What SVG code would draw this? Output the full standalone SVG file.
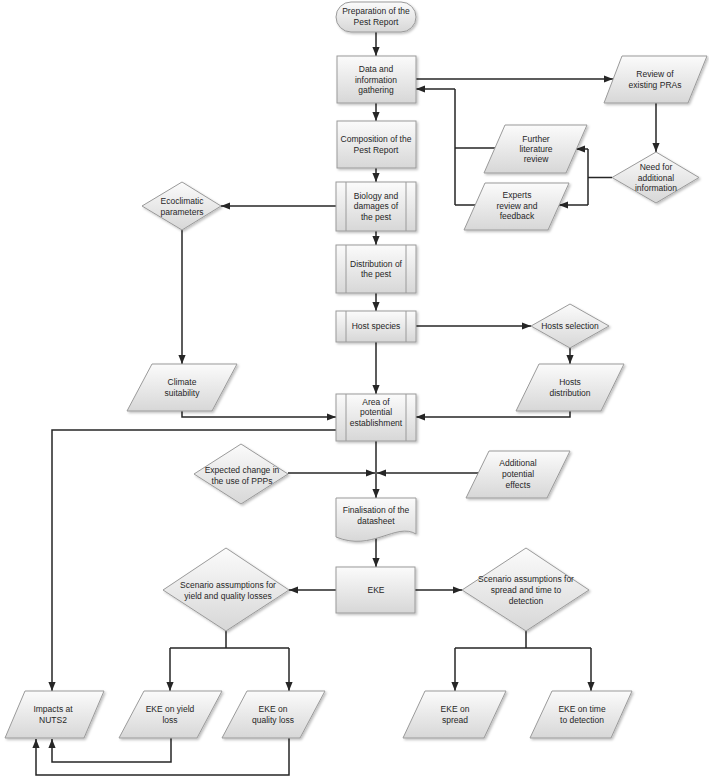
<svg xmlns="http://www.w3.org/2000/svg" width="709" height="776" viewBox="0 0 709 776">
<defs>
<linearGradient id="g" x1="0" y1="0" x2="0" y2="1">
<stop offset="0" stop-color="#fbfbfb"/>
<stop offset="1" stop-color="#d7d7d7"/>
</linearGradient>
<filter id="sh" x="-10%" y="-10%" width="130%" height="130%">
<feDropShadow dx="1.5" dy="1.5" stdDeviation="0.8" flood-color="#000" flood-opacity="0.25"/>
</filter>
<marker id="ah" viewBox="0 0 10 8" refX="10" refY="4" markerWidth="9" markerHeight="7.5" orient="auto" markerUnits="userSpaceOnUse">
<path d="M0,0 L10,4 L0,8 z" fill="#262626"/>
</marker>
</defs>
<style>
.s{fill:url(#g);stroke:#9a9a9a;stroke-width:1;filter:url(#sh)}
.in{fill:none;stroke:#9a9a9a;stroke-width:1}
.t{font-family:"Liberation Sans",Arial,sans-serif;font-size:8.5px;fill:#262626;text-anchor:middle}
.c{fill:none;stroke:#262626;stroke-width:1.5}
.a{marker-end:url(#ah)}
</style>
<rect width="709" height="776" fill="#fff"/>

<g id="connectors">
<path class="c a" d="M376,32 V56"/>
<path class="c a" d="M376,103 V121"/>
<path class="c a" d="M376,168 V182"/>
<path class="c a" d="M376,231 V245"/>
<path class="c a" d="M376,293 V311"/>
<path class="c a" d="M376,342 V394"/>
<path class="c a" d="M376,441 V498"/>
<path class="c a" d="M288,473 H375"/>
<path class="c a" d="M478,473 H377"/>
<path class="c a" d="M376,536 V567"/>
<path class="c a" d="M416,79 H613"/>
<path class="c a" d="M656,103 V152"/>
<path class="c" d="M612,177.5 H588 M588,149 V205"/>
<path class="c a" d="M588,149 H576"/>
<path class="c a" d="M588,205 H559"/>
<path class="c" d="M495,148 H455 M475,205 H455 M455,89 V205"/>
<path class="c a" d="M455,89 H416"/>
<path class="c a" d="M336,206 H221"/>
<path class="c a" d="M182,230 V364"/>
<path class="c a" d="M182,411 V417 H336"/>
<path class="c a" d="M416,326 H531"/>
<path class="c a" d="M570,348 V364"/>
<path class="c a" d="M570,411 V417 H416"/>
<path class="c a" d="M336,430 H52 V691"/>
<path class="c a" d="M336,590 H289"/>
<path class="c a" d="M415,590 H462"/>
<path class="c" d="M226,631 V648 M170,648 H289"/>
<path class="c a" d="M170,648 V691"/>
<path class="c a" d="M289,648 V691"/>
<path class="c" d="M526,631 V648 M455,648 H591"/>
<path class="c a" d="M455,648 V691"/>
<path class="c a" d="M591,648 V691"/>
<path class="c a" d="M171,738 V762 H52 V739"/>
<path class="c a" d="M289,738 V775 H36 V739"/>
</g>

<g id="n-prep">
<rect class="s" x="336" y="2" width="80" height="30" rx="15"/>
<text class="t" x="376" y="14">Preparation of the</text>
<text class="t" x="376" y="25">Pest Report</text>
</g>
<g id="n-data">
<rect class="s" x="337" y="56" width="79" height="47"/>
<text class="t" x="376" y="72">Data and</text>
<text class="t" x="376" y="83">information</text>
<text class="t" x="376" y="93">gathering</text>
</g>
<g id="n-comp">
<rect class="s" x="337" y="121" width="79" height="47"/>
<text class="t" x="376" y="142">Composition of the</text>
<text class="t" x="376" y="153">Pest Report</text>
</g>
<g id="n-bio">
<rect class="s" x="336" y="182" width="80" height="49"/>
<path class="in" d="M346,182 V231 M406,182 V231"/>
<text class="t" x="376" y="199">Biology and</text>
<text class="t" x="376" y="209">damages of</text>
<text class="t" x="376" y="220">the pest</text>
</g>
<g id="n-dist">
<rect class="s" x="336" y="245" width="80" height="48"/>
<path class="in" d="M346,245 V293 M406,245 V293"/>
<text class="t" x="376" y="267">Distribution of</text>
<text class="t" x="376" y="277">the pest</text>
</g>
<g id="n-host">
<rect class="s" x="336" y="311" width="80" height="31"/>
<path class="in" d="M346,311 V342 M406,311 V342"/>
<text class="t" x="376" y="329">Host species</text>
</g>
<g id="n-area">
<rect class="s" x="336" y="394" width="80" height="47"/>
<path class="in" d="M346,394 V441 M406,394 V441"/>
<text class="t" x="376" y="405">Area of</text>
<text class="t" x="376" y="415">potential</text>
<text class="t" x="376" y="426">establishment</text>
</g>
<g id="n-review">
<polygon class="s" points="622,56 707,56 688,103 604,103"/>
<text class="t" x="655" y="77">Review of</text>
<text class="t" x="655" y="88">existing PRAs</text>
</g>
<g id="n-need">
<polygon class="s" points="656,152 699,177.5 656,203 612,177.5"/>
<text class="t" x="656" y="170">Need for</text>
<text class="t" x="656" y="180.5">additional</text>
<text class="t" x="656" y="191">information</text>
</g>
<g id="n-further">
<polygon class="s" points="505,125 587,125 566,173 484,173"/>
<text class="t" x="536" y="142">Further</text>
<text class="t" x="536" y="152">literature</text>
<text class="t" x="536" y="162">review</text>
</g>
<g id="n-experts">
<polygon class="s" points="485,183 569,183 548,230 464,230"/>
<text class="t" x="517" y="198">Experts</text>
<text class="t" x="517" y="209">review and</text>
<text class="t" x="517" y="219">feedback</text>
</g>
<g id="n-eco">
<polygon class="s" points="182,182 221,206 182,230 142,206"/>
<text class="t" x="182" y="204">Ecoclimatic</text>
<text class="t" x="182" y="215">parameters</text>
</g>
<g id="n-climate">
<polygon class="s" points="152,364 237,364 212,411 127,411"/>
<text class="t" x="182" y="385">Climate</text>
<text class="t" x="182" y="396">suitability</text>
</g>
<g id="n-hsel">
<polygon class="s" points="570,304 609,326 570,348 531,326"/>
<text class="t" x="570" y="329">Hosts selection</text>
</g>
<g id="n-hdist">
<polygon class="s" points="539,364 624,364 601,411 516,411"/>
<text class="t" x="570" y="385">Hosts</text>
<text class="t" x="570" y="396">distribution</text>
</g>
<g id="n-expected">
<polygon class="s" points="241,444 288,474 241,504 194,474"/>
<text class="t" x="242" y="473">Expected change in</text>
<text class="t" x="242" y="484">the use of PPPs</text>
</g>
<g id="n-additional">
<polygon class="s" points="489,451 570,451 547,498 466,498"/>
<text class="t" x="518" y="466">Additional</text>
<text class="t" x="518" y="477">potential</text>
<text class="t" x="518" y="488">effects</text>
</g>
<g id="n-final">
<path class="s" d="M336,498 H416 V534 C396,522 372,552 336,537 Z"/>
<text class="t" x="376" y="513">Finalisation of the</text>
<text class="t" x="376" y="524">datasheet</text>
</g>
<g id="n-eke">
<rect class="s" x="336" y="567" width="79" height="46"/>
<text class="t" x="376" y="593">EKE</text>
</g>
<g id="n-scen-left">
<polygon class="s" points="226,548 289,590 226,631 163,590"/>
<text class="t" x="228" y="588">Scenario assumptions for</text>
<text class="t" x="228" y="599">yield and quality losses</text>
</g>
<g id="n-scen-right">
<polygon class="s" points="526,548 589,590 526,631 462,590"/>
<text class="t" x="526" y="582">Scenario assumptions for</text>
<text class="t" x="526" y="593">spread and time to</text>
<text class="t" x="526" y="604">detection</text>
</g>
<g id="n-impacts">
<polygon class="s" points="25,691 104,691 84,738 5,738"/>
<text class="t" x="53" y="712">Impacts at</text>
<text class="t" x="53" y="723">NUTS2</text>
</g>
<g id="n-yield">
<polygon class="s" points="144,691 222,691 197,738 119,738"/>
<text class="t" x="170" y="712">EKE on yield</text>
<text class="t" x="170" y="723">loss</text>
</g>
<g id="n-quality">
<polygon class="s" points="247,691 325,691 300,738 222,738"/>
<text class="t" x="273" y="712">EKE on</text>
<text class="t" x="273" y="723">quality loss</text>
</g>
<g id="n-spread">
<polygon class="s" points="425,691 506,691 484,738 403,738"/>
<text class="t" x="455" y="712">EKE on</text>
<text class="t" x="455" y="723">spread</text>
</g>
<g id="n-time">
<polygon class="s" points="552,691 632,691 611,738 530,738"/>
<text class="t" x="582" y="712">EKE on time</text>
<text class="t" x="582" y="723">to detection</text>
</g>
</svg>
